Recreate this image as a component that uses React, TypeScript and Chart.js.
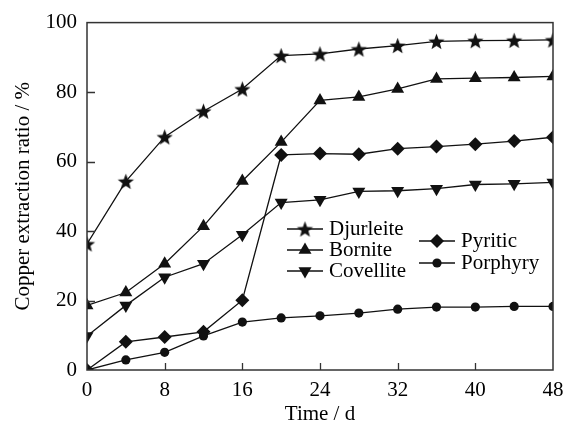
import React, { useEffect, useRef } from 'react';
import { Chart, registerables } from 'chart.js';
import { drawPoint } from 'chart.js/helpers';

Chart.register(...registerables);

const days = [0, 4, 8, 12, 16, 20, 24, 28, 32, 36, 40, 44, 48];
const djurleite = [36.3, 54.3, 67.1, 74.5, 80.9, 90.5, 91.0, 92.4, 93.4, 94.6, 94.8, 94.9, 95.0];
const bornite = [18.6, 22.3, 30.6, 41.4, 54.4, 65.6, 77.6, 78.6, 80.9, 83.8, 84.0, 84.2, 84.5];
const covellite = [9.8, 18.6, 26.7, 30.6, 38.9, 48.2, 49.0, 51.4, 51.6, 52.2, 53.4, 53.6, 54.0];
const pyritic = [0, 8.1, 9.5, 11.0, 20.1, 61.9, 62.3, 62.1, 63.7, 64.3, 65.0, 65.9, 67.0];
const porphyry = [0, 2.9, 5.1, 9.8, 13.8, 15.0, 15.6, 16.4, 17.5, 18.1, 18.1, 18.3, 18.3];
const xTicks = [0, 8, 16, 24, 32, 40, 48];
const yTicks = [0, 20, 40, 60, 80, 100];
const seriesNames = ['Djurleite', 'Bornite', 'Covellite', 'Pyritic', 'Porphyry'];
const xTitle = 'Time / d';
const yTitle = 'Copper extraction ratio / %';

const FONT = '"Liberation Serif", "Times New Roman", serif';
const INK = '#111';

function makeStar(outer: number, inner: number): HTMLCanvasElement {
  const size = Math.ceil(outer * 2 + 2);
  const c = document.createElement('canvas');
  c.width = size;
  c.height = size;
  const g = c.getContext('2d')!;
  const cx = size / 2;
  const cy = size / 2 + outer * 0.1;
  g.beginPath();
  for (let i = 0; i < 10; i++) {
    const r = i % 2 === 0 ? outer : inner;
    const a = -Math.PI / 2 + (i * Math.PI) / 5;
    const px = cx + r * Math.cos(a);
    const py = cy + r * Math.sin(a);
    if (i === 0) g.moveTo(px, py);
    else g.lineTo(px, py);
  }
  g.closePath();
  g.fillStyle = INK;
  g.fill();
  return c;
}

export default function App() {
  const ref = useRef<HTMLCanvasElement | null>(null);

  useEffect(() => {
    const canvas = ref.current;
    if (!canvas) return;
    const star = makeStar(8.5, 3.6);

    const styles: any[] = [
      { pointStyle: star, radius: 8.5, rotation: 0 },
      { pointStyle: 'triangle', radius: 7.5, rotation: 0 },
      { pointStyle: 'triangle', radius: 7.5, rotation: 180 },
      { pointStyle: 'rectRot', radius: 7, rotation: 0 },
      { pointStyle: 'circle', radius: 4.6, rotation: 0 },
    ];
    const values = [djurleite, bornite, covellite, pyritic, porphyry];

    const datasets = values.map((vals, i) => ({
      label: seriesNames[i],
      data: days.map((d, j) => ({ x: d, y: vals[j] })),
      borderColor: INK,
      borderWidth: 1.3,
      backgroundColor: INK,
      pointStyle: styles[i].pointStyle,
      pointRadius: styles[i].radius,
      pointRotation: styles[i].rotation,
      pointBackgroundColor: INK,
      pointBorderColor: INK,
      pointBorderWidth: 0,
      tension: 0,
    }));

    const frame = {
      id: 'frame',
      afterDraw(chart: any) {
        const { ctx, chartArea: a, scales } = chart;
        ctx.save();
        ctx.strokeStyle = '#333';
        ctx.lineWidth = 1.5;
        ctx.strokeRect(a.left, a.top, a.right - a.left, a.bottom - a.top);
        ctx.lineWidth = 1.3;
        ctx.beginPath();
        for (const v of xTicks) {
          const px = Math.round(scales.x.getPixelForValue(v)) + 0.5;
          if (px <= a.left + 1 || px >= a.right - 1) continue;
          ctx.moveTo(px, a.bottom);
          ctx.lineTo(px, a.bottom - 7);
        }
        for (const v of yTicks) {
          const py = Math.round(scales.y.getPixelForValue(v)) + 0.5;
          if (py <= a.top + 1 || py >= a.bottom - 1) continue;
          ctx.moveTo(a.left, py);
          ctx.lineTo(a.left + 8, py);
        }
        ctx.stroke();
        ctx.restore();
      },
    };

    const legendPlugin = {
      id: 'customLegend',
      afterDraw(chart: any) {
        const { ctx } = chart;
        const items = [
          { i: 0, x0: 287, x1: 323, mx: 305, tx: 329, y: 229 },
          { i: 1, x0: 287, x1: 323, mx: 305, tx: 329, y: 250 },
          { i: 2, x0: 287, x1: 323, mx: 305, tx: 329, y: 271 },
          { i: 3, x0: 419, x1: 455, mx: 437, tx: 461, y: 241 },
          { i: 4, x0: 419, x1: 455, mx: 437, tx: 461, y: 263 },
        ];
        ctx.save();
        ctx.font = `21px ${FONT}`;
        ctx.textBaseline = 'middle';
        ctx.textAlign = 'left';
        for (const it of items) {
          ctx.strokeStyle = INK;
          ctx.lineWidth = 1.3;
          ctx.beginPath();
          ctx.moveTo(it.x0, it.y);
          ctx.lineTo(it.x1, it.y);
          ctx.stroke();
          ctx.fillStyle = INK;
          drawPoint(ctx, {
            pointStyle: styles[it.i].pointStyle,
            radius: styles[it.i].radius,
            rotation: styles[it.i].rotation,
            borderWidth: 0,
          } as any, it.mx, it.y);
          ctx.fillStyle = '#000';
          ctx.fillText(seriesNames[it.i], it.tx, it.y);
        }
        ctx.restore();
      },
    };

    const chart = new Chart(canvas, {
      type: 'line',
      data: { datasets },
      options: {
        animation: false,
        responsive: false,
        maintainAspectRatio: false,
        layout: { padding: { top: 21, right: 19, left: 0, bottom: 0 } },
        plugins: { legend: { display: false }, tooltip: { enabled: false } },
        scales: {
          x: {
            type: 'linear',
            min: 0,
            max: 48,
            grid: { display: false, drawTicks: false },
            border: { display: false },
            afterBuildTicks: (s: any) => {
              s.ticks = xTicks.map((v) => ({ value: v }));
            },
            afterFit: (s: any) => {
              s.height = 55;
            },
            ticks: {
              color: '#000',
              padding: 8,
              maxRotation: 0,
              autoSkip: false,
              font: { family: FONT, size: 21 },
            },
            title: {
              display: true,
              text: xTitle,
              color: '#000',
              font: { family: FONT, size: 21, lineHeight: 1 },
              padding: 0,
            },
          },
          y: {
            type: 'linear',
            min: 0,
            max: 100,
            grid: { display: false, drawTicks: false },
            border: { display: false },
            afterBuildTicks: (s: any) => {
              s.ticks = yTicks.map((v) => ({ value: v }));
            },
            afterFit: (s: any) => {
              s.width = 87;
            },
            ticks: {
              color: '#000',
              padding: 10,
              autoSkip: false,
              font: { family: FONT, size: 21 },
            },
            title: {
              display: true,
              text: yTitle,
              color: '#000',
              font: { family: FONT, size: 21, lineHeight: 1 },
              padding: { top: 12.5, bottom: 0 },
            },
          },
        },
      },
      plugins: [frame, legendPlugin],
    });

    return () => chart.destroy();
  }, []);

  return (
    <div style={{ position: 'absolute', left: 0, top: 0, width: 572, height: 425, background: '#fff' }}>
      <canvas ref={ref} width={572} height={425} style={{ display: 'block' }} />
    </div>
  );
}
